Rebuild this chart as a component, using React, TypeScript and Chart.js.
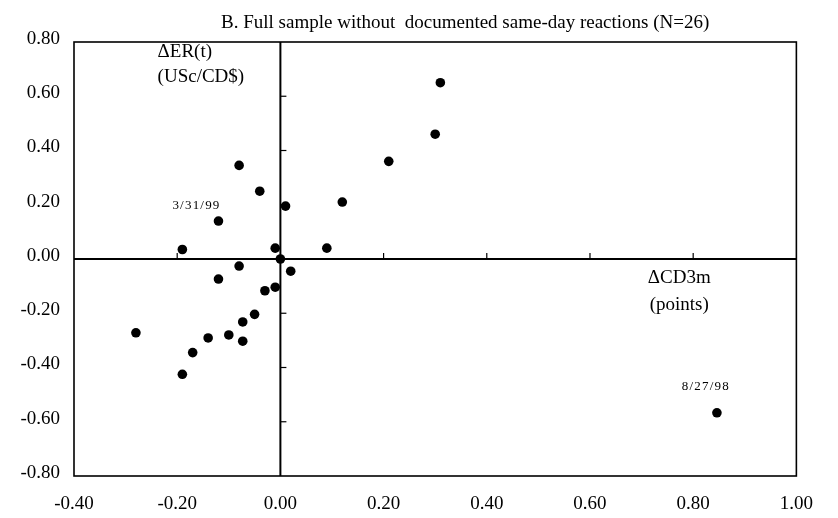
import React, { useEffect, useRef } from "react";
import { Chart, registerables } from "chart.js";

Chart.register(...registerables);

// ---- data ----
const changeCD3m = [
  0.31, 0.30, 0.21, 0.12, 0.09, 0.01, -0.04, -0.01, 0.0, -0.08, -0.12, -0.19, -0.08,
  -0.12, 0.02, -0.03, -0.01, -0.05, -0.073, -0.28, -0.14, -0.10, -0.073, -0.17, -0.19, 0.846,
];
const changeER = [
  0.65, 0.46, 0.36, 0.21, 0.04, 0.195, 0.25, 0.04, 0.0, 0.345, 0.14, 0.035, -0.026,
  -0.074, -0.045, -0.117, -0.104, -0.204, -0.232, -0.272, -0.291, -0.28, -0.303, -0.345, -0.425, -0.567,
];
const pointLabels = ["", "", "", "", "", "", "", "", "", "", "3/31/99", "", "", "", "", "", "", "", "", "", "", "", "", "", "", "8/27/98"];

const xMin = -0.4;
const xMax = 1.0;
const yMin = -0.8;
const yMax = 0.8;
const tickStep = 0.2;

const titleText = "B. Full sample without  documented same-day reactions (N=26)";
const yAxisTitle = ["\u0394ER(t)", "(USc/CD$)"];
const xAxisTitle = ["\u0394CD3m", "(points)"];

const SERIF = "'Liberation Serif', 'Times New Roman', serif";

const fmt = (v: number) => (Math.abs(v) < 1e-9 ? "0.00" : v.toFixed(2));

const decor = {
  id: "decor",
  beforeDatasetsDraw(chart: any) {
    const { ctx, chartArea: a, scales } = chart;
    const x = scales.x;
    const y = scales.y;
    const line = (x1: number, y1: number, x2: number, y2: number) => {
      ctx.beginPath();
      ctx.moveTo(x1, y1);
      ctx.lineTo(x2, y2);
      ctx.stroke();
    };
    ctx.save();
    ctx.strokeStyle = "#000";
    ctx.lineWidth = 1.6;
    ctx.strokeRect(a.left, a.top, a.right - a.left, a.bottom - a.top);
    const x0 = x.getPixelForValue(0);
    const y0 = y.getPixelForValue(0);
    ctx.lineWidth = 2;
    line(x0, a.top, x0, a.bottom);
    line(a.left, y0, a.right, y0);
    ctx.lineWidth = 1.2;
    x.ticks.forEach((t: any) => {
      if (Math.abs(t.value) < 1e-9 || t.value <= xMin + 1e-9 || t.value >= xMax - 1e-9) return;
      const px = x.getPixelForValue(t.value);
      line(px, y0, px, y0 - 6);
    });
    y.ticks.forEach((t: any) => {
      if (Math.abs(t.value) < 1e-9 || t.value <= yMin + 1e-9 || t.value >= yMax - 1e-9) return;
      const py = y.getPixelForValue(t.value);
      line(x0, py, x0 + 6, py);
    });
    ctx.restore();
  },
  afterDatasetsDraw(chart: any) {
    const { ctx, chartArea: a, scales } = chart;
    const x = scales.x;
    const y = scales.y;
    ctx.save();
    ctx.fillStyle = "#000";
    ctx.textBaseline = "middle";

    // title
    ctx.font = `19px ${SERIF}`;
    ctx.textAlign = "center";
    ctx.fillText(titleText, (a.left + a.right) / 2 + 30, a.top - 19);

    // y axis title (left aligned)
    ctx.textAlign = "left";
    const yl = x.getPixelForValue(-0.238);
    ctx.fillText(yAxisTitle[0], yl, y.getPixelForValue(0.763));
    ctx.fillText(yAxisTitle[1], yl, y.getPixelForValue(0.671));

    // x axis title (centered)
    ctx.textAlign = "center";
    const xc = x.getPixelForValue(0.773);
    ctx.fillText(xAxisTitle[0], xc, y.getPixelForValue(-0.07));
    ctx.fillText(xAxisTitle[1], xc, y.getPixelForValue(-0.17));

    // point labels
    ctx.font = `13px ${SERIF}`;
    try {
      (ctx as any).letterSpacing = "1.2px";
    } catch (e) {}
    const offsets: Record<string, [number, number]> = { "3/31/99": [-22, -15], "8/27/98": [-11, -26] };
    pointLabels.forEach((lab, i) => {
      if (!lab) return;
      const px = x.getPixelForValue(changeCD3m[i]);
      const py = y.getPixelForValue(changeER[i]);
      const off = offsets[lab] || [0, -15];
      ctx.fillText(lab, px + off[0], py + off[1]);
    });
    ctx.restore();
  },
};

export default function App() {
  const ref = useRef<HTMLCanvasElement | null>(null);
  useEffect(() => {
    if (!ref.current) return;
    const chart = new Chart(ref.current, {
      type: "scatter",
      data: {
        datasets: [
          {
            data: changeCD3m.map((v, i) => ({ x: v, y: changeER[i] })),
            backgroundColor: "#000",
            borderWidth: 0,
            pointRadius: 4.8,
            pointHoverRadius: 4.8,
          },
        ],
      },
      options: {
        animation: false,
        responsive: true,
        maintainAspectRatio: false,
        layout: { padding: { left: 0, right: 28, top: 34, bottom: 0 } },
        plugins: { legend: { display: false }, tooltip: { enabled: false }, title: { display: false } },
        scales: {
          x: {
            type: "linear",
            min: xMin,
            max: xMax,
            grid: { display: false, drawTicks: false },
            border: { display: false },
            afterFit: (s: any) => {
              s.height = 34;
            },
            ticks: {
              stepSize: tickStep,
              padding: 17,
              color: "#000",
              font: { family: SERIF, size: 19 },
              maxRotation: 0,
              callback: (v: any) => fmt(Number(v)),
            },
          },
          y: {
            type: "linear",
            min: yMin,
            max: yMax,
            grid: { display: false, drawTicks: false },
            border: { display: false },
            afterFit: (s: any) => {
              s.width = 66;
            },
            ticks: {
              stepSize: tickStep,
              padding: 14,
              labelOffset: -3,
              color: "#000",
              font: { family: SERIF, size: 19 },
              callback: (v: any) => fmt(Number(v)),
            },
          },
        },
      },
      plugins: [decor],
    });
    return () => chart.destroy();
  }, []);
  return (
    <div style={{ width: "822px", height: "502px", position: "relative" }}>
      <canvas ref={ref} />
    </div>
  );
}
